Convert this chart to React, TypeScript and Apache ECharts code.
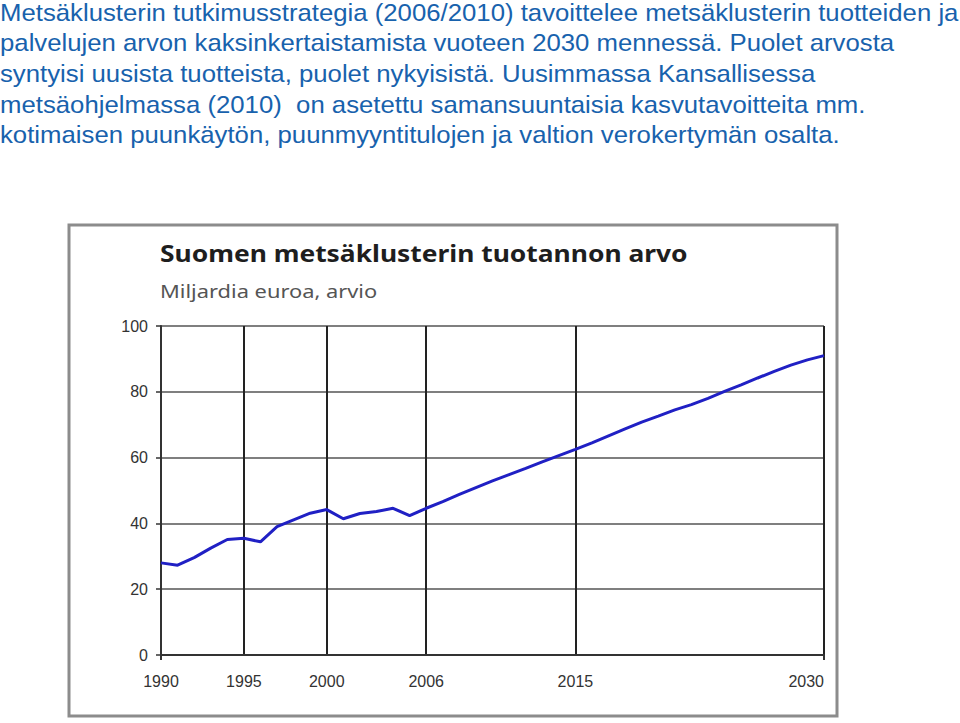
import React, { useEffect, useRef } from "react";
import * as echarts from "echarts";

const introLines = [
  "Metsäklusterin tutkimusstrategia (2006/2010) tavoittelee metsäklusterin tuotteiden ja",
  "palvelujen arvon kaksinkertaistamista vuoteen 2030 mennessä. Puolet arvosta",
  "syntyisi uusista tuotteista, puolet nykyisistä. Uusimmassa Kansallisessa",
  "metsäohjelmassa (2010)  on asetettu samansuuntaisia kasvutavoitteita mm.",
  "kotimaisen puunkäytön, puunmyyntitulojen ja valtion verokertymän osalta.",
];

const chartTitle = "Suomen metsäklusterin tuotannon arvo";
const chartSubtitle = "Miljardia euroa, arvio";

const years = [
  "1990", "1991", "1992", "1993", "1994", "1995", "1996", "1997", "1998", "1999",
  "2000", "2001", "2002", "2003", "2004", "2005", "2006", "2007", "2008", "2009",
  "2010", "2011", "2012", "2013", "2014", "2015", "2016", "2017", "2018", "2019",
  "2020", "2021", "2022", "2023", "2024", "2025", "2026", "2027", "2028", "2029",
  "2030",
];

const values = [
  28.0, 27.3, 29.6, 32.5, 35.1, 35.5, 34.4, 39.0, 41.1, 43.1,
  44.2, 41.4, 43.0, 43.6, 44.6, 42.4, 44.6, 46.6, 48.8, 50.9,
  52.9, 54.8, 56.7, 58.7, 60.6, 62.5, 64.5, 66.6, 68.7, 70.8,
  72.6, 74.5, 76.1, 78.0, 80.1, 82.1, 84.2, 86.2, 88.1, 89.7,
  91.0,
];

const labelYears = ["1990", "1995", "2000", "2006", "2015", "2030"];
const gridYears = ["1995", "2000", "2006", "2015", "2030"];
const tickYears = ["1990", "2030"];

export default function App() {
  const ref = useRef<HTMLDivElement>(null);

  useEffect(() => {
    if (!ref.current) return;
    const chart = echarts.init(ref.current, null, { renderer: "svg" });

    const textGraphics: any[] = introLines.map((line, i) => ({
      type: "text",
      x: 0,
      y: 12 + i * 30.7,
      scaleX: 1.073,
      style: {
        text: line,
        fill: "#1862ad",
        font: "24px 'Liberation Sans', Arial, sans-serif",
        verticalAlign: "middle",
        align: "left",
      },
    }));

    chart.setOption({
      animation: false,
      backgroundColor: "#ffffff",
      graphic: [
        ...textGraphics,
        {
          type: "rect",
          shape: { x: 69, y: 225, width: 768, height: 491 },
          style: { fill: "none", stroke: "#8c8c8c", lineWidth: 3 },
        },
        {
          type: "text",
          x: 160,
          y: 252,
          scaleX: 1.1,
          style: {
            text: chartTitle,
            fill: "#1e1e1e",
            font: "bold 24px 'Noto Sans', sans-serif",
            verticalAlign: "middle",
          },
        },
        {
          type: "text",
          x: 160,
          y: 291,
          scaleX: 1.15,
          style: {
            text: chartSubtitle,
            fill: "#555555",
            font: "19px 'Noto Sans', sans-serif",
            verticalAlign: "middle",
          },
        },
      ],
      grid: {
        left: 161,
        right: 136,
        top: 326,
        bottom: 68,
        outerBoundsMode: "none",
      },
      xAxis: {
        type: "category",
        data: years,
        boundaryGap: false,
        axisLine: { show: true, lineStyle: { color: "#333333", width: 2 } },
        axisTick: {
          show: true,
          inside: false,
          length: 5,
          interval: (_i: number, v: string) => tickYears.includes(v),
          lineStyle: { color: "#333333", width: 2 },
        },
        axisLabel: {
          show: true,
          interval: (_i: number, v: string) => labelYears.includes(v),
          color: "#333333",
          fontFamily: "'Liberation Sans', Arial, sans-serif",
          fontSize: 16,
          margin: 18,
          alignMaxLabel: "right",
        },
        splitLine: {
          show: true,
          interval: (_i: number, v: string) => gridYears.includes(v),
          lineStyle: { color: "#222222", width: 2 },
        },
      },
      yAxis: {
        type: "value",
        min: 0,
        max: 100,
        interval: 20,
        axisLine: { show: true, lineStyle: { color: "#333333", width: 2 } },
        axisTick: { show: true, length: 5, lineStyle: { color: "#333333", width: 1.5 } },
        axisLabel: {
          color: "#333333",
          fontFamily: "'Liberation Sans', Arial, sans-serif",
          fontSize: 16,
          margin: 13,
        },
        splitLine: { show: true, lineStyle: { color: "#555555", width: 1.5 } },
      },
      series: [
        {
          type: "line",
          data: values,
          symbol: "none",
          lineStyle: { color: "#2020c4", width: 3 },
          itemStyle: { color: "#2020c4" },
        },
      ],
    });

    return () => chart.dispose();
  }, []);

  return (
    <div
      ref={ref}
      style={{ position: "fixed", left: 0, top: 0, width: 960, height: 723 }}
    />
  );
}
